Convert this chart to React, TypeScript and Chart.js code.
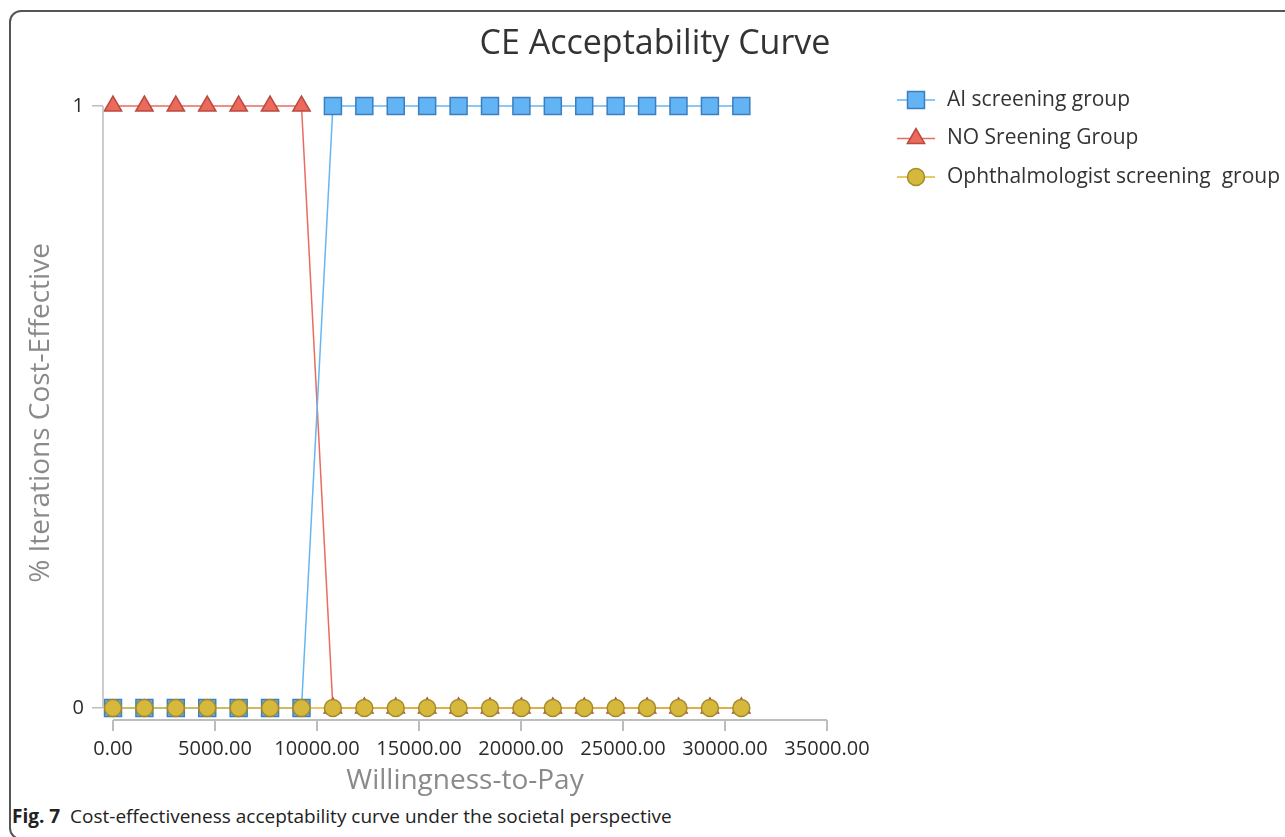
import React, { useEffect, useRef } from "react";
import { Chart, registerables } from "chart.js";
import { drawPoint } from "chart.js/helpers";

Chart.register(...registerables);

// ---- data ----
const wtp = [0, 1540, 3080, 4620, 6160, 7700, 9240, 10780, 12320, 13860, 15400, 16940, 18480, 20020, 21560, 23100, 24640, 26180, 27720, 29260, 30800];
const aiScreening = [0, 0, 0, 0, 0, 0, 0, 1, 1, 1, 1, 1, 1, 1, 1, 1, 1, 1, 1, 1, 1];
const noScreening = [1, 1, 1, 1, 1, 1, 1, 0, 0, 0, 0, 0, 0, 0, 0, 0, 0, 0, 0, 0, 0];
const ophthalmologist = [0, 0, 0, 0, 0, 0, 0, 0, 0, 0, 0, 0, 0, 0, 0, 0, 0, 0, 0, 0, 0];
const seriesNames = ["AI screening group", "NO Sreening Group", "Ophthalmologist screening  group"];
const xTicks = [0, 5000, 10000, 15000, 20000, 25000, 30000, 35000];
const yTicks = [0, 1];

const FONT = "'Open Sans', 'Noto Sans', sans-serif";

const toPoints = (ys: number[]) => ys.map((y, i) => ({ x: wtp[i], y }));

const decorPlugin = {
  id: "decor",
  afterDatasetsDraw(chart: any) {
    const ctx = chart.ctx;
    const xs = chart.scales.x;
    const ys = chart.scales.y;
    ctx.save();
    // axis lines
    ctx.strokeStyle = "#bdbdbd";
    ctx.lineWidth = 2;
    ctx.beginPath();
    ctx.moveTo(xs.getPixelForValue(xTicks[0]), chart.chartArea.bottom);
    ctx.lineTo(xs.getPixelForValue(xTicks[xTicks.length - 1]), chart.chartArea.bottom);
    ctx.stroke();
    ctx.lineWidth = 1.5;
    ctx.beginPath();
    ctx.moveTo(chart.chartArea.left, ys.getPixelForValue(1));
    ctx.lineTo(chart.chartArea.left, ys.getPixelForValue(0));
    ctx.stroke();
    ctx.restore();
  },
  afterDraw(chart: any) {
    const ctx = chart.ctx;
    ctx.save();
    // title
    ctx.fillStyle = "#333333";
    ctx.font = `normal 34px ${FONT}`;
    ctx.textAlign = "center";
    ctx.textBaseline = "middle";
    ctx.fillText("CE Acceptability Curve", 655, 44);
    // legend
    chart.data.datasets.forEach((ds: any, i: number) => {
      const y = 100 + i * 38.5;
      ctx.strokeStyle = ds.borderColor;
      ctx.lineWidth = 1.5;
      ctx.beginPath();
      ctx.moveTo(897, y);
      ctx.lineTo(935, y);
      ctx.stroke();
      ctx.fillStyle = ds.pointBackgroundColor;
      ctx.strokeStyle = ds.pointBorderColor;
      ctx.lineWidth = ds.pointBorderWidth;
      drawPoint(ctx, { pointStyle: ds.pointStyle, radius: ds.pointRadius, rotation: 0, borderWidth: ds.pointBorderWidth }, 916, y);
      ctx.fillStyle = "#333333";
      ctx.font = `normal 21px ${FONT}`;
      ctx.textAlign = "left";
      ctx.textBaseline = "middle";
      ctx.fillText(ds.label, 947, y);
    });
    ctx.restore();
  },
};

export default function App() {
  const ref = useRef<HTMLCanvasElement | null>(null);
  useEffect(() => {
    if (!ref.current) return;
    const chart = new Chart(ref.current, {
      type: "line",
      data: {
        datasets: [
          {
            label: seriesNames[0],
            data: toPoints(aiScreening),
            borderColor: "#66B6F2",
            borderWidth: 1.5,
            pointStyle: "rect",
            pointRadius: 12,
            pointBackgroundColor: "#62B4F5",
            pointBorderColor: "#3D7EBF",
            pointBorderWidth: 1.5,
            clip: false,
            order: 1,
          },
          {
            label: seriesNames[1],
            data: toPoints(noScreening),
            borderColor: "#EA6B5F",
            borderWidth: 1.5,
            pointStyle: "triangle",
            pointRadius: 10,
            pointBackgroundColor: "#EC695B",
            pointBorderColor: "#B84A3F",
            pointBorderWidth: 1.5,
            clip: false,
            order: 2,
          },
          {
            label: seriesNames[2],
            data: toPoints(ophthalmologist),
            borderColor: "#E0B732",
            borderWidth: 1.5,
            pointStyle: "circle",
            pointRadius: 8.5,
            pointBackgroundColor: "#D6B83D",
            pointBorderColor: "#A38B2B",
            pointBorderWidth: 1.5,
            clip: false,
            order: 0,
          },
        ] as any,
      },
      options: {
        animation: false,
        responsive: false,
        devicePixelRatio: 1,
        layout: { padding: { left: 0, top: 106, right: 458, bottom: 0 } },
        plugins: {
          legend: { display: false },
          title: { display: false },
          tooltip: { enabled: false },
        },
        scales: {
          x: {
            type: "linear",
            min: -490,
            max: 35000,
            afterBuildTicks: (s: any) => {
              s.ticks = xTicks.map((v) => ({ value: v }));
            },
            afterFit: (s: any) => {
              s.height = 80;
            },
            ticks: {
              autoSkip: false,
              maxRotation: 0,
              color: "#2b2b2b",
              font: { family: FONT, size: 20 },
              padding: 6,
              callback: (v: any) => Number(v).toFixed(2),
            },
            grid: { display: true, drawOnChartArea: false, drawTicks: true, tickLength: 11, color: "#bdbdbd", lineWidth: 2 },
            border: { display: false },
            title: {
              display: true,
              text: "Willingness-to-Pay",
              color: "#8a8a8a",
              font: { family: FONT, size: 28 },
              padding: { top: 0, bottom: 2 },
            },
          },
          y: {
            type: "linear",
            min: -0.02,
            max: 1,
            afterBuildTicks: (s: any) => {
              s.ticks = yTicks.map((v) => ({ value: v }));
            },
            afterFit: (s: any) => {
              s.width = 103;
            },
            ticks: {
              autoSkip: false,
              color: "#2b2b2b",
              font: { family: FONT, size: 20 },
              padding: 8,
              callback: (v: any) => String(v),
            },
            grid: { display: true, drawOnChartArea: false, drawTicks: true, tickLength: 11, color: "#bdbdbd", lineWidth: 1.5 },
            border: { display: false },
            title: {
              display: true,
              text: "% Iterations Cost-Effective",
              color: "#8a8a8a",
              font: { family: FONT, size: 28 },
              padding: { top: 24, bottom: 0 },
            },
          },
        },
      },
      plugins: [decorPlugin],
    });
    return () => chart.destroy();
  }, []);

  return (
    <div style={{ position: "absolute", left: 0, top: 0, width: 1285, height: 837, overflow: "hidden", background: "#fff" }}>
      <div
        style={{
          position: "absolute",
          left: 9,
          top: 10,
          width: 1320,
          height: 826,
          border: "2px solid #555",
          borderRadius: 12,
        }}
      />
      <canvas ref={ref} width={1285} height={800} style={{ position: "absolute", left: 0, top: 0 }} />
      <div
        style={{
          position: "absolute",
          left: 12,
          top: 803,
          fontFamily: FONT,
          fontSize: 19,
          color: "#222",
          whiteSpace: "pre",
        }}
      >
        <b>Fig. 7</b>
        {"  "}Cost-effectiveness acceptability curve under the societal perspective
      </div>
    </div>
  );
}
